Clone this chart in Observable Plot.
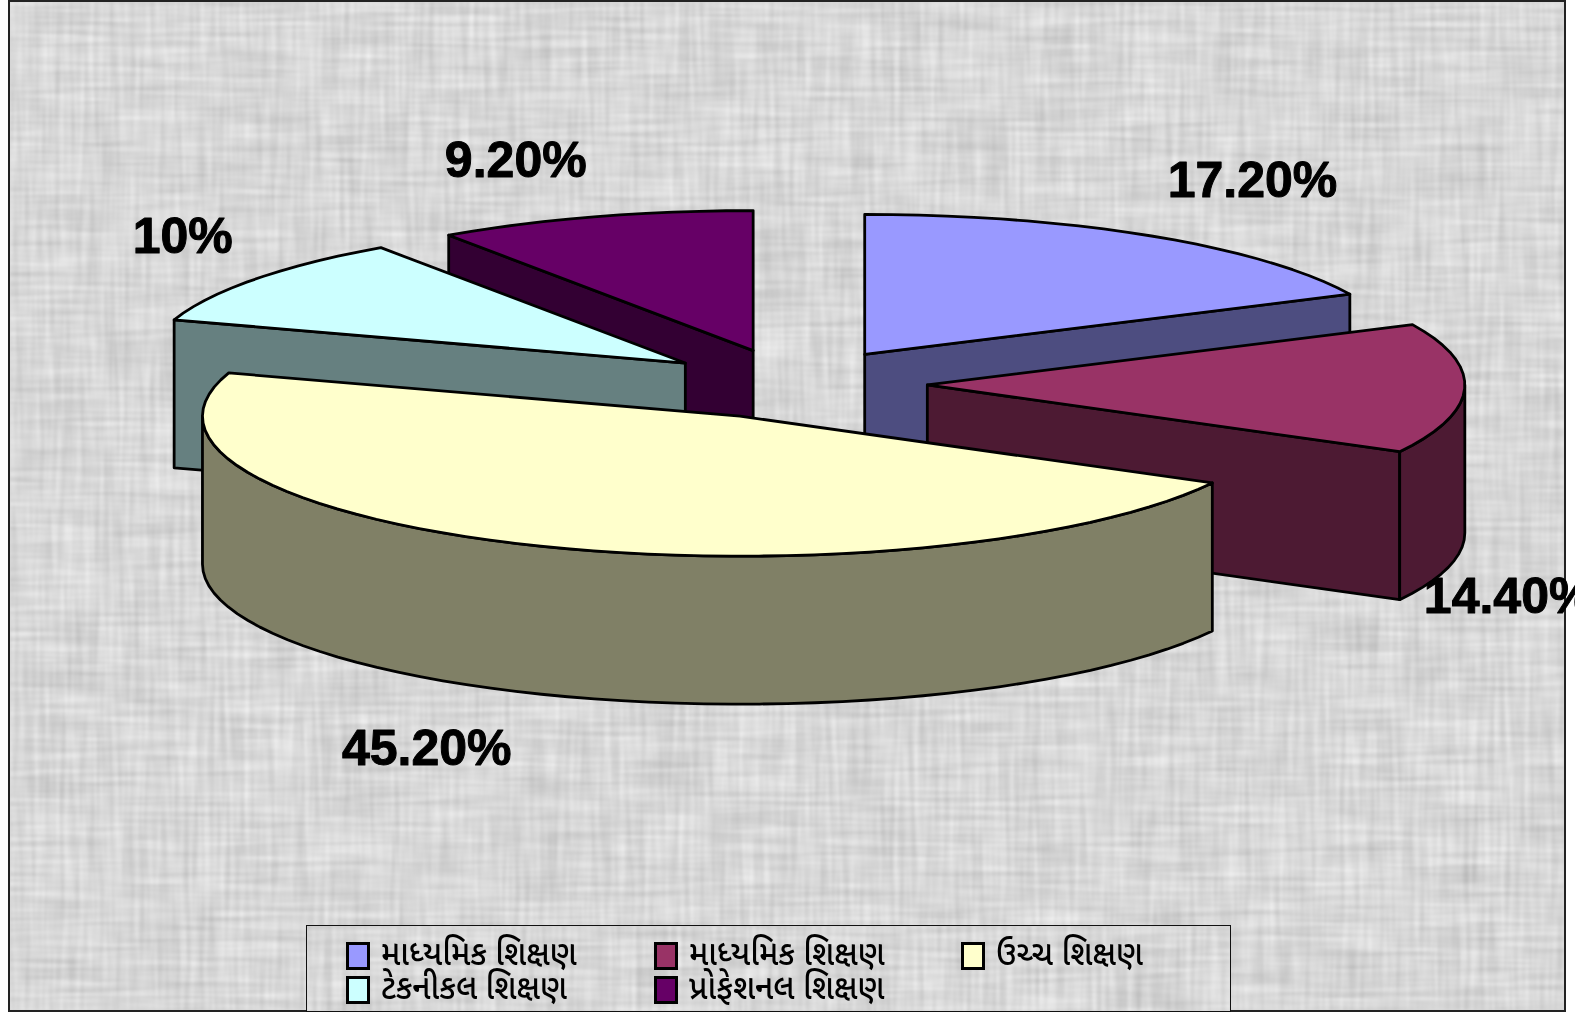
<!DOCTYPE html>
<html lang="gu">
<head>
<meta charset="utf-8">
<script src="https://cdn.jsdelivr.net/npm/d3@7"></script>
<script src="https://cdn.jsdelivr.net/npm/@observablehq/plot@0.6"></script>
<style>
  html, body { margin: 0; padding: 0; background: #fff; overflow: hidden; }
  #page { position: relative; width: 1581px; height: 1014px; overflow: hidden; }
  #frame { position: absolute; left: 8px; top: 0; width: 1558px; height: 1012px; box-sizing: border-box;
           border: 2px solid #222; background: #d6d6d6; overflow: hidden; }
  #frame > svg.tex { position: absolute; left: 0; top: 0; }
  #chart { position: absolute; left: 0; top: 0; }
  #chart svg { display: block; background: transparent; overflow: hidden; }
  #legend { position: absolute; left: 306px; top: 925px; width: 925px; height: 87px; box-sizing: border-box;
            border: 1px solid #111; background: #d6d6d6; overflow: hidden; }
  #legend svg.tex { position: absolute; left: 0; top: 0; }
  .item { position: absolute; display: flex; align-items: center; height: 30px;
          font: 500 32px/30px "Noto Sans Gujarati", "Noto Sans", "DejaVu Sans", sans-serif; color: #000; white-space: nowrap; }
  .sw { width: 18px; height: 22px; border: 3px solid #000; margin-right: 11px; flex: none; box-sizing: content-box; }
  .lb { display: inline-block; transform: scaleY(1.08); transform-origin: 50% 50%; }
</style>
</head>
<body>
<div id="page">
  <div id="frame"></div>
  <div id="chart"></div>
  <div id="legend"></div>
</div>
<script>
// ---- data ----
const categories = ["માધ્યમિક શિક્ષણ", "માધ્યમિક શિક્ષણ", "ઉચ્ચ શિક્ષણ", "ટેકનીકલ શિક્ષણ", "પ્રોફેશનલ શિક્ષણ"];
const values = [17.2, 14.4, 45.2, 10, 9.2];
const valueLabels = ["17.20%", "14.40%", "45.20%", "10%", "9.20%"];
const topColors = ["#9999ff", "#993366", "#ffffcc", "#ccffff", "#660066"];
const sideColors = ["#4d4d80", "#4d1a33", "#808066", "#668080", "#330033"];

// ---- layout of the exploded, tilted pie ----
const explode = 0.25;          // slice offset as a share of the radius
const depth = 1.057;           // wall height in units of the vertical radius
const paintOrder = [0, 4, 3, 1, 2];
const labelDx = [101, 44, -101, -72, -78];
const labelDy = [-55, 208, 204, -42, -56];

const total = d3.sum(values);
const cum = d3.cumsum(values);
const slices = values.map((v, i) => {
  const a0 = ((cum[i] - v) / total) * 2 * Math.PI;
  const a1 = (cum[i] / total) * 2 * Math.PI;
  const mid = (a0 + a1) / 2;
  return {i, a0, a1, mid, cx: explode * Math.sin(mid), cy: explode * Math.cos(mid)};
});
const rim = (s, t, drop = 0) => ({x: s.cx + Math.sin(t), y: s.cy + Math.cos(t) - drop});
const arc = (s, t0, t1, drop = 0) => {
  const n = Math.max(2, Math.ceil(Math.abs(t1 - t0) * 60 / Math.PI));
  return d3.range(n + 1).map(k => rim(s, t0 + (t1 - t0) * k / n, drop));
};
const close = (pts) => [...pts, pts[0]];
const apex = (s, drop = 0) => ({x: s.cx, y: s.cy - drop});

// back-to-front faces
const faces = [];
for (const p of paintOrder) {
  const s = slices[p];
  const wall = (pts) => faces.push({pts: close(pts), fill: sideColors[p]});
  // radial walls that face the viewer
  for (const [t, sign] of [[s.a0, -1], [s.a1, 1]]) {
    if (Math.cos(t + sign * Math.PI / 2) < -1e-6) {
      wall([apex(s), rim(s, t), rim(s, t, depth), apex(s, depth)]);
    }
  }
  // curved outer wall, front half only
  const f0 = Math.max(s.a0, Math.PI / 2), f1 = Math.min(s.a1, 3 * Math.PI / 2);
  if (f1 > f0) wall([...arc(s, f0, f1), ...arc(s, f1, f0, depth)]);
  // top surface
  faces.push({pts: close([apex(s), ...arc(s, s.a0, s.a1)]), fill: topColors[p]});
}

const labelPos = slices.map(s => rim(s, s.mid));

const faceMarks = faces.map(f => Plot.line(f.pts, {
  x: "x", y: "y", fill: f.fill, stroke: "#000", strokeWidth: 2.8, strokeLinejoin: "round", curve: "linear"
}));
const textMarks = valueLabels.map((t, i) => Plot.text([labelPos[i]], {
  x: "x", y: "y", text: () => t, dx: labelDx[i], dy: labelDy[i],
  fontSize: 50, fontWeight: 700, fontFamily: "Liberation Sans, Arial, sans-serif",
  fill: "#000", stroke: "#000", strokeWidth: 1, textAnchor: "middle", lineAnchor: "middle"
}));

const plot = Plot.plot({
  width: 1575, height: 1014,
  margin: 0,
  x: {domain: [-1, 1], range: [792.5 - 537.5, 792.5 + 537.5], axis: null},
  y: {domain: [-1, 1], range: [383.5 + 140, 383.5 - 140], axis: null},
  marks: [...faceMarks, ...textMarks]
});
document.getElementById("chart").append(plot);

// ---- woven grey paper behind the chart and the legend ----
function texture(w, h, seed) {
  const ns = "http://www.w3.org/2000/svg";
  const s = document.createElementNS(ns, "svg");
  s.setAttribute("class", "tex"); s.setAttribute("width", w); s.setAttribute("height", h);
  const opaque = "1 0 0 0 0  1 0 0 0 0  1 0 0 0 0  0 0 0 0 1";
  s.innerHTML = `<filter id="w${seed}" x="0" y="0" width="100%" height="100%" color-interpolation-filters="sRGB">
      <feTurbulence type="fractalNoise" baseFrequency="0.01 0.2" numOctaves="3" seed="${seed}"/>
      <feColorMatrix type="matrix" values="${opaque}" result="a"/>
      <feTurbulence type="fractalNoise" baseFrequency="0.2 0.01" numOctaves="3" seed="${seed + 3}"/>
      <feColorMatrix type="matrix" values="${opaque}" result="b"/>
      <feTurbulence type="fractalNoise" baseFrequency="0.025 0.03" numOctaves="2" seed="${seed + 7}"/>
      <feColorMatrix type="matrix" values="${opaque}" result="c"/>
      <feComposite in="a" in2="b" operator="arithmetic" k1="0" k2="0.5" k3="0.5" k4="0" result="ab"/>
      <feComposite in="ab" in2="c" operator="arithmetic" k1="0" k2="0.85" k3="0.15" k4="0"/>
      <feColorMatrix type="matrix" values="0.36 0 0 0 0.665  0 0.36 0 0 0.665  0 0 0.36 0 0.665  0 0 0 0 1"/>
      <feGaussianBlur stdDeviation="0.9"/>
    </filter><rect width="${w}" height="${h}" filter="url(#w${seed})"/>`;
  return s;
}
document.getElementById("frame").append(texture(1554, 1008, 4));
document.getElementById("legend").append(texture(923, 85, 9));

// ---- legend ----
const legend = document.getElementById("legend");
const legendSpots = [[39, 15], [347, 15], [654, 15], [39, 49], [347, 49]];
categories.forEach((c, i) => {
  const el = document.createElement("div");
  el.className = "item";
  el.style.left = legendSpots[i][0] + "px";
  el.style.top = legendSpots[i][1] + "px";
  const sw = document.createElement("span");
  sw.className = "sw"; sw.style.background = topColors[i];
  const lb = document.createElement("span");
  lb.className = "lb"; lb.textContent = c;
  el.append(sw, lb);
  legend.append(el);
});
</script>
</body>
</html>
